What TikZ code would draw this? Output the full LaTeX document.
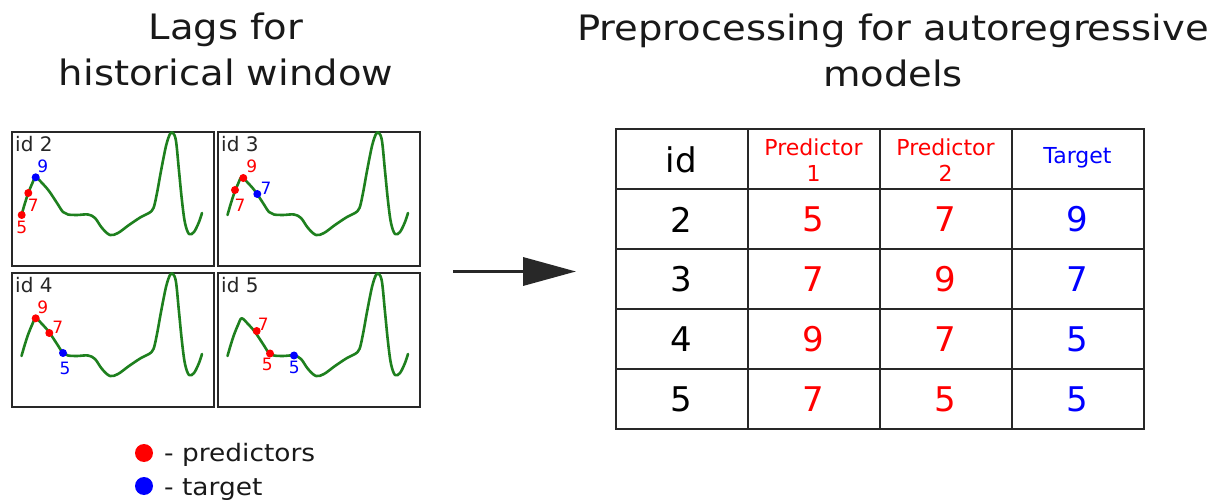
\documentclass[tikz,border=0pt]{standalone}
\usepackage{fontspec}
\setmainfont{DejaVu Sans}
\newfontfamily\widefont{DejaVu Sans}[FakeStretch=1.1]
\usetikzlibrary{arrows.meta}
\definecolor{ecg}{RGB}{30,128,30}
\definecolor{pred}{RGB}{255,0,0}
\definecolor{targ}{RGB}{0,0,255}
\definecolor{frame}{RGB}{40,40,40}
\definecolor{arrowgray}{RGB}{40,40,40}
\tikzset{
  panelbox/.style={draw=frame, line width=2.2pt, minimum width=202pt, minimum height=134pt, inner sep=0pt, anchor=north west},
  idlabel/.style={font=\fontsize{20}{20}\selectfont, anchor=north west, inner sep=0pt, text=black!85},
  wavestyle/.style={draw=ecg, line width=2.6pt, line join=round, line cap=round},
  dotr/.style={circle, fill=pred, inner sep=0pt, minimum size=8pt},
  dotb/.style={circle, fill=targ, inner sep=0pt, minimum size=8pt},
  lagr/.style={text=pred, font=\fontsize{17}{17}\selectfont, inner sep=0pt},
  lagb/.style={text=targ, font=\fontsize{17}{17}\selectfont, inner sep=0pt},
  titletext/.style={font=\widefont\fontsize{35}{46}\selectfont, align=center, anchor=base, inner sep=0pt, text=black!90},
  legdot/.style={circle, inner sep=0pt, minimum size=18pt},
  legtext/.style={font=\widefont\fontsize{24}{24}\selectfont, anchor=base west, inner sep=0pt, text=black!90},
  grid/.style={draw=frame, line width=2pt},
  headcell/.style={font=\fontsize{22}{26}\selectfont, align=center, inner sep=0pt},
  numcell/.style={font=\fontsize{34}{34}\selectfont, inner sep=0pt},
  wave/.pic={
    \draw[wavestyle] plot[smooth, tension=0.55] coordinates {
      (10.5,84) (14,72) (17.3,62) (21,53) (24.7,46.3) (31,52) (38,60) (46,72)
      (52,81) (57,83.5) (66,84) (77,83.5) (84,87) (91,97) (99,104) (107,102)
      (118,94) (130,86) (138,82) (142.5,77) (146,62) (150,40) (155,15) (159,3)
      (162,2) (165,10) (168,40) (171,70) (174,92) (178,103) (183,101) (188,91) (191,82)};
  }
}
\begin{document}
\begin{tikzpicture}[x=1pt, y=-1pt]
\useasboundingbox[fill=white] (0,0) rectangle (1221,502);

% titles
\node[titletext] (t1) at (226,86) {Lags for\\historical window};
\node[titletext] (t2) at (893,87) {Preprocessing for autoregressive\\models};

% panel 1
\begin{scope}[shift={(11,131)}]
  \node[panelbox] (p1) at (0,0) {};
  \node[idlabel] (p1id) at (4,5) {id 2};
  \pic at (0,0) {wave};
  \node[dotr] (p1a) at (10.7,84) {};
  \node[dotr] (p1b) at (17.3,62) {};
  \node[dotb] (p1c) at (24.7,46.3) {};
  \node[lagr] (p1al) at (10.7,96) {5};
  \node[lagr] (p1bl) at (22.3,74) {7};
  \node[lagb] (p1cl) at (31.7,35.7) {9};
\end{scope}

% panel 2
\begin{scope}[shift={(217,131)}]
  \node[panelbox] (p2) at (0,0) {};
  \node[idlabel] (p2id) at (4,5) {id 3};
  \pic at (0,0) {wave};
  \node[dotr] (p2a) at (18,59) {};
  \node[dotr] (p2b) at (26.3,47) {};
  \node[dotb] (p2c) at (40.3,63) {};
  \node[lagr] (p2al) at (23,74) {7};
  \node[lagr] (p2bl) at (34.7,35.7) {9};
  \node[lagb] (p2cl) at (49,57.3) {7};
\end{scope}

% panel 3
\begin{scope}[shift={(11,272)}]
  \node[panelbox] (p3) at (0,0) {};
  \node[idlabel] (p3id) at (4,5) {id 4};
  \pic at (0,0) {wave};
  \node[dotr] (p3a) at (24.7,46.3) {};
  \node[dotr] (p3b) at (38.3,61) {};
  \node[dotb] (p3c) at (52,81) {};
  \node[lagr] (p3al) at (31.7,35.7) {9};
  \node[lagr] (p3bl) at (46.7,55.3) {7};
  \node[lagb] (p3cl) at (54,96.3) {5};
\end{scope}

% panel 4
\begin{scope}[shift={(217,272)}]
  \node[panelbox] (p4) at (0,0) {};
  \node[idlabel] (p4id) at (4,5) {id 5};
  \pic at (0,0) {wave};
  \node[dotr] (p4a) at (39.7,59) {};
  \node[dotr] (p4b) at (53,81.5) {};
  \node[dotb] (p4c) at (77,83.5) {};
  \node[lagr] (p4al) at (46.3,52) {7};
  \node[lagr] (p4bl) at (50.3,92.3) {5};
  \node[lagb] (p4cl) at (77.3,95.7) {5};
\end{scope}

% legend
\node[legdot, fill=pred] (ld1) at (144,453) {};
\node[legdot, fill=targ] (ld2) at (144,486) {};
\node[legtext] (lt1) at (164,461) {- predictors};
\node[legtext] (lt2) at (164,495) {- target};

% arrow
\coordinate (a1) at (453,271.5);
\coordinate (a2) at (576,271.5);
\draw[draw=arrowgray, line width=3.5pt, -{Triangle[length=53pt, width=28pt, fill=arrowgray]}] (a1) -- (a2);

% table grid
\draw[grid] (615.5,129.5) rectangle (1143.5,429.5);
\foreach \x in {747.5, 879.5, 1011.5} { \draw[grid] (\x,129.5) -- (\x,429.5); }
\foreach \y in {189.5, 249.5, 309.5, 369.5} { \draw[grid] (615.5,\y) -- (1143.5,\y); }

% header
\node[numcell] (hid) at (681.5,159.5) {id};
\node[headcell, text=pred] (hp1) at (813.5,160) {Predictor\\1};
\node[headcell, text=pred] (hp2) at (945.5,160) {Predictor\\2};
\node[headcell, text=targ] (htg) at (1077.5,158) {Target};

% body
\foreach \r/\i/\a/\b/\c [count=\k] in {0/2/5/7/9, 1/3/7/9/7, 2/4/9/7/5, 3/5/7/5/5} {
  \node[numcell] (id\k) at (681.5,{219.5+60*\r}) {\i};
  \node[numcell, text=pred] (pa\k) at (813.5,{219.5+60*\r}) {\a};
  \node[numcell, text=pred] (pb\k) at (945.5,{219.5+60*\r}) {\b};
  \node[numcell, text=targ] (tg\k) at (1077.5,{219.5+60*\r}) {\c};
}
\end{tikzpicture}
\end{document}
